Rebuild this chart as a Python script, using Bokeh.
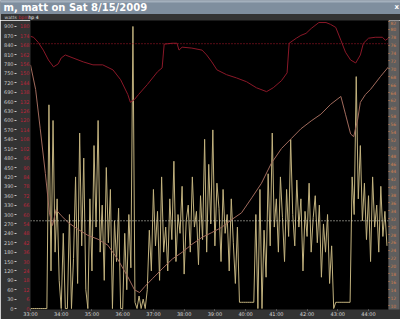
from bokeh.plotting import figure
from bokeh.models import Range1d, LinearAxis, FixedTicker, Span
from bokeh.layouts import column
from bokeh.embed import file_html
from bokeh.resources import INLINE
from bokeh.core.properties import value

TITLE = "m, matt on Sat 8/15/2009"
HEADER = ["watts", "bpm", "hp 4"]

TIME_TICKS = [1980, 2040, 2100, 2160, 2220, 2280, 2340, 2400, 2460, 2520, 2580, 2640]
TIME_LABELS = ["33:00", "34:00", "35:00", "36:00", "37:00", "38:00",
               "39:00", "40:00", "41:00", "42:00", "43:00", "44:00"]
WATTS_TICKS = list(range(0, 901, 30))
BPM_TICKS = list(range(0, 181, 6))
RIGHT_TICKS = list(range(10, 83, 2))

# power (watts), sampled every 4 s from 33:00
POWER_START = 1980
POWER_STEP = 4
POWER = [0, 0, 0, 0, 0, 0, 0, 0, 0, 650,
         120, 600, 180, 350, 90, 0, 240, 0, 0, 300,
         0, 160, 420, 80, 560, 200, 480, 60, 0, 350,
         120, 520, 260, 600, 180, 330, 90, 450, 210, 380,
         0, 280, 150, 320, 0, 0, 240, 60, 300, 130,
         900, 20, 0, 40, 0, 30, 0, 60, 250, 120,
         380, 200, 310, 90, 420, 180, 260, 120, 350, 220,
         470, 150, 300, 240, 390, 110, 280, 330, 180, 420,
         260, 310, 140, 360, 220, 540, 180, 460, 270, 570,
         200, 400, 320, 150, 380, 240, 300, 120, 350, 210,
         80, 260, 20, 20, 20, 20, 20, 20, 20, 20,
         300, 0, 380, 0, 250, 100, 430, 200, 560, 260,
         350, 180, 420, 290, 150, 380, 230, 540, 300, 200,
         410, 260, 350, 120, 310, 230, 400, 180, 290, 360,
         210, 330, 100, 270, 180, 300, 80, 200, 0, 20,
         20, 20, 20, 20, 20, 20, 20, 420, 300, 740,
         350, 520, 280, 400, 220, 360, 150, 420, 260, 330,
         180, 390, 230, 310, 200]
POWER_TIME = [POWER_START + POWER_STEP * i for i in range(len(POWER))]

# heart rate (bpm)
HR_TIME = [1980, 1986, 1995, 2005, 2015, 2025, 2034, 2040, 2048, 2063,
           2083, 2102, 2121, 2141, 2156, 2170, 2175, 2183, 2191, 2208,
           2228, 2237, 2241, 2257, 2266, 2270, 2276, 2295, 2315, 2324,
           2334, 2344, 2363, 2382, 2402, 2421, 2441, 2454, 2470, 2481,
           2485, 2499, 2508, 2518, 2528, 2543, 2557, 2566, 2576, 2586,
           2595, 2605, 2615, 2624, 2630, 2640, 2653, 2667, 2673, 2679]
HR_BPM = [173.7, 173.1, 169.9, 164.9, 158.6, 154.2, 156.1, 159.9, 161.8, 159.9,
          157.4, 155.5, 155.5, 152.3, 146.0, 136.6, 131.6, 133.4, 136.6, 142.9,
          151.1, 153.6, 168.7, 169.3, 169.3, 164.9, 166.8, 166.2, 164.9, 161.8,
          157.4, 152.3, 149.2, 147.2, 144.7, 140.9, 138.4, 140.9, 145.4, 150.4,
          169.3, 172.5, 174.3, 175.6, 178.7, 182.5, 182.5, 181.3, 179.4, 171.2,
          163.6, 158.6, 156.7, 161.8, 169.3, 172.5, 173.1, 173.1, 171.2, 172.5]

# right-axis series
ALT_TIME = [1980, 1990, 1999, 2009, 2017, 2023, 2030, 2040, 2054, 2073,
            2092, 2112, 2131, 2150, 2170, 2183, 2193, 2203, 2218, 2237,
            2257, 2276, 2295, 2315, 2334, 2353, 2373, 2392, 2412, 2431,
            2450, 2470, 2489, 2508, 2528, 2547, 2566, 2586, 2595, 2605,
            2611, 2619, 2624, 2634, 2644, 2663, 2679]
ALT = [71.0, 64.8, 54.8, 43.5, 33.5, 30.3, 34.3, 32.8, 31.0, 29.3,
       27.8, 26.8, 25.3, 21.8, 17.3, 14.0, 13.3, 14.8, 16.8, 19.3,
       21.8, 23.5, 25.5, 27.3, 28.5, 29.8, 31.8, 33.5, 37.3, 41.0,
       46.0, 49.8, 52.3, 54.8, 56.8, 58.5, 61.0, 63.0, 58.5, 53.5,
       52.8, 57.3, 61.5, 63.5, 64.8, 68.0, 70.5]

AVG_WATTS = 280
AVG_HR = 169

FONT = value("DejaVu Sans")

# ---- title bar ----
t = figure(width=400, height=20, x_range=Range1d(0, 400), y_range=Range1d(20, 0),
           output_backend="svg", toolbar_location=None, title=None,
           x_axis_location=None, y_axis_location=None,
           min_border=0)
t.frame_align = False
t.grid.visible = False
t.outline_line_color = None
t.background_fill_color = "#343434"
t.border_fill_color = "#343434"
t.quad(left=[0], right=[400], top=[0], bottom=[13], color="#7f8e9e")
t.quad(left=[0], right=[400], top=[0], bottom=[1.5], color="#a4b0bd")
t.text(x=[3], y=[7], text=[TITLE], text_font=FONT, text_font_size="10px",
       text_font_style="bold", text_color="#ffffff", text_baseline="middle")
t.text(x=[394], y=[6.5], text=["x"], text_font=FONT, text_font_size="7px",
       text_font_style="bold", text_color="#ffffff", text_baseline="middle")
t.text(x=[4, 18, 28], y=[17, 17, 17], text=HEADER, text_font=FONT,
       text_font_size="4.5px", text_color=["#c8c8c8", "#c0283a", "#ffffff"],
       text_baseline="middle")

# ---- main chart ----
p = figure(width=400, height=299, x_range=Range1d(1980, 2679),
           y_range=Range1d(-0.6, 183.8), output_backend="svg",
           toolbar_location=None, title=None,
           min_border_left=27, min_border_right=12, min_border_top=0,
           min_border_bottom=6)
p.frame_align = False
p.extra_y_ranges = {"watts": Range1d(-3, 919), "alt": Range1d(9.0, 82.25)}
p.background_fill_color = "#000000"
p.border_fill_color = "#333333"
p.outline_line_color = "#1a1a1a"
p.grid.visible = False

# bpm axis (inner left)
ay = p.yaxis[0]
ay.ticker = FixedTicker(ticks=BPM_TICKS)
ay.major_label_text_color = "#b8263a"
ay.major_label_text_font_size = "5px"
ay.major_label_text_font = "DejaVu Sans"
ay.major_label_standoff = 1
ay.major_tick_out = 0
ay.major_tick_in = 0
ay.minor_tick_out = 0
ay.minor_tick_in = 0
ay.axis_line_color = None

# watts axis (outer left)
aw = LinearAxis(y_range_name="watts", ticker=FixedTicker(ticks=WATTS_TICKS))
aw.major_label_text_color = "#c8c8c8"
aw.major_label_text_font_size = "5px"
aw.major_label_text_font = "DejaVu Sans"
aw.major_label_standoff = 1
aw.major_tick_out = 2
aw.major_tick_in = 0
aw.major_tick_line_color = "#c8c8c8"
aw.minor_tick_out = 0
aw.minor_tick_in = 0
aw.axis_line_color = None
p.add_layout(aw, "left")

# right axis
ar = LinearAxis(y_range_name="alt", ticker=FixedTicker(ticks=RIGHT_TICKS))
ar.major_label_text_color = "#d08050"
ar.major_label_text_font_size = "4.5px"
ar.major_label_text_font = "DejaVu Sans"
ar.major_label_standoff = 1
ar.major_tick_out = 1
ar.major_tick_in = 0
ar.major_tick_line_color = "#d08050"
ar.minor_tick_out = 0
ar.minor_tick_in = 0
ar.axis_line_color = None
ar.background_fill_color = "#5e5e5e"
p.add_layout(ar, "right")

# time axis
ax = p.xaxis[0]
ax.ticker = FixedTicker(ticks=TIME_TICKS)
ax.major_label_overrides = dict(zip(TIME_TICKS, TIME_LABELS))
ax.major_label_text_color = "#d8d8d8"
ax.major_label_text_font_size = "5px"
ax.major_label_text_font = "DejaVu Sans"
ax.major_label_standoff = 0
ax.major_tick_out = 1
ax.major_tick_in = 0
ax.major_tick_line_color = "#888888"
ax.minor_tick_out = 0
ax.minor_tick_in = 0
ax.axis_line_color = None

p.line(POWER_TIME, POWER, y_range_name="watts", line_color="#c2b27e", line_width=1)
p.line(ALT_TIME, ALT, y_range_name="alt", line_color="#a06a5c", line_width=1)
p.line(HR_TIME, HR_BPM, line_color="#8a1828", line_width=1)

p.add_layout(Span(location=AVG_WATTS, dimension="width", y_range_name="watts",
                  line_color="#e6e6d8", line_dash="1 2", line_width=1))
p.add_layout(Span(location=AVG_HR, dimension="width",
                  line_color="#b0182c", line_dash="1 2", line_width=1))

layout = column(t, p, spacing=0)
open("out.html", "w").write(file_html(layout, INLINE))
